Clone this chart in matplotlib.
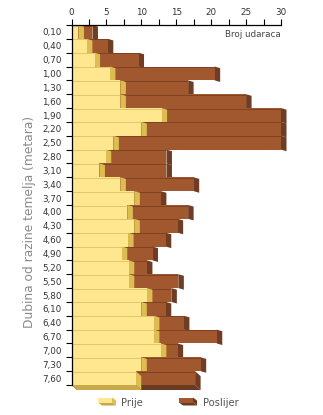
import numpy as np
import matplotlib
matplotlib.use("Agg")
import matplotlib.pyplot as plt
from matplotlib.patches import Polygon

# Depth below foundation level (m) and blow counts before / after
depths = ["0,10", "0,40", "0,70", "1,00", "1,30", "1,60", "1,90", "2,20", "2,50",
          "2,80", "3,10", "3,40", "3,70", "4,00", "4,30", "4,60", "4,90", "5,20",
          "5,50", "5,80", "6,10", "6,40", "6,70", "7,00", "7,30", "7,60"]
prije = [1.0, 2.2, 3.3, 5.5, 7.0, 7.0, 12.9, 10.0, 6.0, 4.9, 4.0, 7.0, 9.0,
         8.0, 9.0, 8.1, 7.2, 8.2, 8.2, 10.8, 10.0, 11.8, 11.8, 12.8, 10.0, 9.2]
poslije = [3.0, 5.2, 9.6, 20.5, 16.7, 25.0, 30.0, 30.0, 30.0, 13.6, 13.6, 17.5, 12.8,
           16.7, 15.2, 13.5, 11.6, 10.8, 15.3, 14.3, 13.5, 16.1, 20.8, 15.2, 18.5, 17.7]
series_names = ["Prije", "Poslijer"]
x_ticks = [0, 5, 10, 15, 20, 25, 30]

W, H = 323, 415
fig = plt.figure(figsize=(W / 100, H / 100), dpi=100)
fig.patch.set_facecolor("white")

ax_l, ax_r, ax_t, ax_b = 71.5, 281.0, 25.0, 385.0
ax = fig.add_axes([ax_l / W, 1 - ax_b / H, (ax_r - ax_l) / W, (ax_b - ax_t) / H])
n = len(depths)
ax.set_xlim(0, 30)
ax.set_ylim(n, 0)

# depth offsets of the 3D faces, in data units
px_x = 30 / (ax_r - ax_l)
px_y = n / (ax_b - ax_t)
dx = 5.5 * px_x
dy_side = 1.6 * px_y
dy_floor = 5.0 * px_y

cols = {
    "Prije": dict(front="#FEE78E", side="#DDBD52", bottom="#C9A84A", edge="#DCC068"),
    "Poslijer": dict(front="#A1582F", side="#6F3D25", bottom="#6A3A22", edge="#7A3F1F"),
}

y = np.arange(n) + 0.5
bars_b = ax.barh(y, poslije, height=1.0, color=cols["Poslijer"]["front"], linewidth=0)
bars_y = ax.barh(y, prije, height=1.0, color=cols["Prije"]["front"], linewidth=0)


def dress(patch, c, z, last):
    x0, y0 = patch.get_x(), patch.get_y()
    w, h = patch.get_width(), patch.get_height()
    patch.set_zorder(z + 0.2)
    dy = dy_floor if last else dy_side
    side = Polygon([(x0 + w, y0), (x0 + w + dx, y0 + dy), (x0 + w + dx, y0 + h + dy),
                    (x0 + w, y0 + h)], closed=True, facecolor=c["side"],
                   edgecolor="none", zorder=z + 0.1, clip_on=False)
    ax.add_patch(side)
    if last:
        bottom = Polygon([(x0, y0 + h), (x0 + w, y0 + h), (x0 + w + dx, y0 + h + dy),
                          (x0 + dx, y0 + h + dy)], closed=True, facecolor=c["bottom"],
                         edgecolor="none", zorder=z, clip_on=False)
        ax.add_patch(bottom)
    ax.plot([x0, x0 + w], [y0 + 0.04, y0 + 0.04], color=c["edge"], lw=0.6,
            zorder=z + 0.3, solid_capstyle="butt", clip_on=False)


for i in range(n):
    base = 2 + i * 1.0
    last = i == n - 1
    dress(bars_b[i], cols["Poslijer"], base, last)
    dress(bars_y[i], cols["Prije"], base + 0.5, last)

# axes styling
for s in ["right", "bottom"]:
    ax.spines[s].set_visible(False)
for s in ["top", "left"]:
    ax.spines[s].set_color("black")
    ax.spines[s].set_linewidth(0.9)
    ax.spines[s].set_zorder(100)

ax.xaxis.set_ticks_position("top")
ax.xaxis.set_label_position("top")
ax.set_xticks(x_ticks)
ax.set_xticklabels([str(v) for v in x_ticks])
ax.set_xticks(np.arange(2.5, 30, 5), minor=True)
ax.tick_params(axis="x", which="both", direction="out", length=4, width=0.8,
               color="black", labelsize=6.3, labelcolor="#333333", pad=1.5)

ax.set_yticks(np.arange(0, n + 1))
ax.set_yticklabels([])
ax.set_yticks(y, minor=True)
ax.set_yticklabels(depths, minor=True)
ax.tick_params(axis="y", which="major", direction="out", length=4, width=0.8, color="black")
ax.tick_params(axis="y", which="minor", length=0, labelsize=6.3, labelcolor="#333333", pad=7)

ax.text(29.9, 0.72, "Broj udaraca", ha="right", va="center", fontsize=6.3,
        color="#444444", zorder=120)

fig.text(30 / W, 1 - 222 / H, "Dubina od razine temelja (metara)", rotation=90,
         ha="center", va="center", fontsize=8.8, color="#8a8a8a")

# legend with small 3D swatches
lg = fig.add_axes([0, 0, 1, 1], facecolor="none")
lg.set_xlim(0, W)
lg.set_ylim(H, 0)
lg.axis("off")


def swatch(x, yc, c):
    w, h, ddx, ddy = 14, 5, 4, 3
    y0 = yc - h / 2 - 1
    lg.add_patch(Polygon([(x, y0 + h), (x + w, y0 + h), (x + w + ddx, y0 + h + ddy),
                          (x + ddx, y0 + h + ddy)], facecolor=c["bottom"], edgecolor="none"))
    lg.add_patch(Polygon([(x + w, y0), (x + w + ddx, y0 + ddy), (x + w + ddx, y0 + h + ddy),
                          (x + w, y0 + h)], facecolor=c["side"], edgecolor="none"))
    lg.add_patch(Polygon([(x, y0), (x + w, y0), (x + w, y0 + h), (x, y0 + h)],
                         facecolor=c["front"], edgecolor="none"))


swatch(98, 401, cols["Prije"])
lg.text(121, 402.5, series_names[0], ha="left", va="center", fontsize=7.2, color="#555555")
swatch(179, 401, cols["Poslijer"])
lg.text(203, 402.5, series_names[1], ha="left", va="center", fontsize=7.2, color="#555555")

fig.savefig("out.png", dpi=100, facecolor="white")
